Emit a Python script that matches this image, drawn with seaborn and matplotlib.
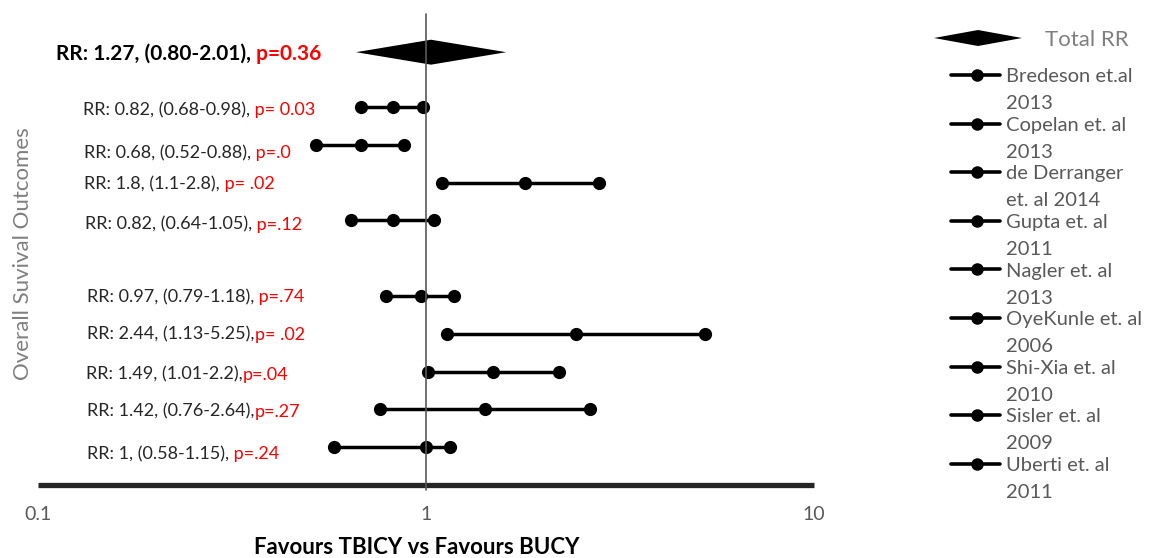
import numpy as np
import pandas as pd
import matplotlib
matplotlib.use("Agg")
import matplotlib.pyplot as plt
import seaborn as sns
from matplotlib.transforms import blended_transform_factory, offset_copy
from matplotlib.ticker import NullLocator

# ---------------- data ----------------
studies = ["Bredeson et.al\n2013", "Copelan et. al\n2013", "de Derranger\net. al 2014",
           "Gupta et. al\n2011", "Nagler et. al\n2013", "OyeKunle et. al\n2006",
           "Shi-Xia et. al\n2010", "Sisler et. al\n2009", "Uberti et. al\n2011"]
rr_point = [0.82, 0.68, 1.8, 0.82, 0.97, 2.44, 1.49, 1.42, 1.0]
rr_low = [0.68, 0.52, 1.1, 0.64, 0.79, 1.13, 1.01, 0.76, 0.58]
rr_high = [0.98, 0.88, 2.8, 1.05, 1.18, 5.25, 2.2, 2.64, 1.15]
row_pos = [10, 9, 8, 7, 5, 4, 3, 2, 1]
rr_text = ["RR: 0.82, (0.68-0.98),", "RR: 0.68, (0.52-0.88),", "RR: 1.8, (1.1-2.8),",
           "RR: 0.82, (0.64-1.05),", "RR: 0.97, (0.79-1.18),", "RR: 2.44, (1.13-5.25),",
           "RR: 1.49, (1.01-2.2),", "RR: 1.42, (0.76-2.64),", "RR: 1, (0.58-1.15),"]
p_text = [" p= 0.03", " p=.0", " p= .02", " p=.12", " p=.74", "p= .02", "p=.04", "p=.27", " p=.24"]

total_text = "RR: 1.27, (0.80-2.01),"
total_p = " p=0.36"
total_shape = [0.66, 1.03, 1.61]   # diamond: left tip, peak, right tip (as drawn)
total_pos = 11.45
total_label = "Total RR"

xticks = [0.1, 1, 10]
xtick_labels = ["0.1", "1", "10"]
xlabel = "Favours TBICY vs Favours BUCY"
ylabel = "Overall Suvival Outcomes"

# ---------------- layout helpers ----------------
W, H = 1149, 558
FONT = ["Lato", "DejaVu Sans"]
text_left_px = [83, 84, 84, 85, 87, 87, 86, 87, 87]
text_y = [9.95, 8.81, 7.99, 6.93, 5.0, 4.02, 2.96, 1.98, 0.85]

sns.set_theme(style="white")
plt.rcParams["font.family"] = FONT

fig = plt.figure(figsize=(W / 100, H / 100), dpi=100)
ax_l, ax_r, ax_b, ax_t = 38, 814, 485, 14
ax = fig.add_axes([ax_l / W, (H - ax_b) / H, (ax_r - ax_l) / W, (ax_b - ax_t) / H])
ax.set_xscale("log")

df = pd.DataFrame({
    "study": np.repeat(studies, 3),
    "value": np.ravel(np.column_stack([rr_low, rr_point, rr_high])),
    "ypos": np.repeat(row_pos, 3),
})
sns.lineplot(data=df, x="value", y="ypos", units="study", estimator=None, sort=True,
             color="black", marker="o", markersize=9.5, markeredgewidth=0,
             linewidth=2.5, legend=False, ax=ax, zorder=3)

# total diamond
half_h = 0.33
ax.fill([total_shape[0], total_shape[1], total_shape[2], total_shape[1]],
        [total_pos, total_pos + half_h, total_pos, total_pos - half_h],
        color="black", lw=0, zorder=3)

ax.axvline(1, ymin=-5 / (ax_b - ax_t), ymax=1, color="#595959", lw=1.2,
           clip_on=False, zorder=5)

ax.set_xlim(0.1, 10)
ax.set_ylim(0, (ax_b - ax_t) / 37.8)
ax.set_xticks(xticks)
ax.set_xticklabels(xtick_labels)
ax.xaxis.set_minor_locator(NullLocator())
ax.set_yticks([])
ax.tick_params(axis="x", length=0, pad=15, labelsize=14, labelcolor="#595959")
for s in ["top", "right", "left"]:
    ax.spines[s].set_visible(False)
ax.spines["bottom"].set_linewidth(3.8)
ax.spines["bottom"].set_color("#262626")
ax.spines["bottom"].set_capstyle("butt")

ax.set_ylabel(ylabel, fontsize=16, color="#7f7f7f", va="center")
ax.yaxis.set_label_coords((23 - ax_l) / (ax_r - ax_l), (ax_b - 254) / (ax_b - ax_t))
ax.set_xlabel(xlabel, fontsize=16, fontweight="bold", color="black", va="center")
ax.xaxis.set_label_coords((417 - ax_l) / (ax_r - ax_l), (ax_b - 548) / (ax_b - ax_t))

# ---------------- row texts ----------------
blend = blended_transform_factory(ax.transAxes, ax.transData)
fig.canvas.draw()
renderer = fig.canvas.get_renderer()


def two_color(xpx, y, t1, t2, fs, weight, c1):
    tr = offset_copy(blend, fig=fig, x=0, y=-0.358 * fs, units="points")
    xa = (xpx - ax_l) / (ax_r - ax_l)
    a = ax.text(xa, y, t1, transform=tr, fontsize=fs, fontweight=weight, color=c1,
                ha="left", va="baseline", clip_on=False)
    bb = a.get_window_extent(renderer)
    xb = ax.transAxes.inverted().transform((bb.x1, 0))[0]
    ax.text(xb, y, t2, transform=tr, fontsize=fs, fontweight=weight, color="#FF0000",
            ha="left", va="baseline", clip_on=False)


two_color(56, total_pos, total_text, total_p, 15, "bold", "black")
for i in range(len(studies)):
    two_color(text_left_px[i], text_y[i], rr_text[i], p_text[i], 13, "normal", "#262626")

# ---------------- legend ----------------
lax = fig.add_axes([0, 0, 1, 1], zorder=4)
lax.set_xlim(0, W)
lax.set_ylim(H, 0)
lax.set_axis_off()

lax.fill([934, 978, 1022, 978], [38, 30, 38, 46], color="black", lw=0)
fs_tot = 16
lax.text(1045, 38 + 0.358 * fs_tot * 100 / 72, total_label, fontsize=fs_tot,
         color="#7f7f7f", ha="left", va="baseline")

fs_leg = 14.5
cap = 0.358 * fs_leg * 100 / 72
for i, name in enumerate(studies):
    y = 75 + 48.6 * i
    lax.plot([951, 977, 1000], [y, y, y], color="black", lw=2.6, marker="o",
             markevery=[1], markersize=9, markeredgewidth=0)
    l1, l2 = name.split("\n")
    lax.text(1006, y + cap, l1, fontsize=fs_leg, color="#595959", ha="left", va="baseline")
    lax.text(1006, y + 27 + cap, l2, fontsize=fs_leg, color="#595959", ha="left", va="baseline")

fig.savefig("out.png", dpi=100)
